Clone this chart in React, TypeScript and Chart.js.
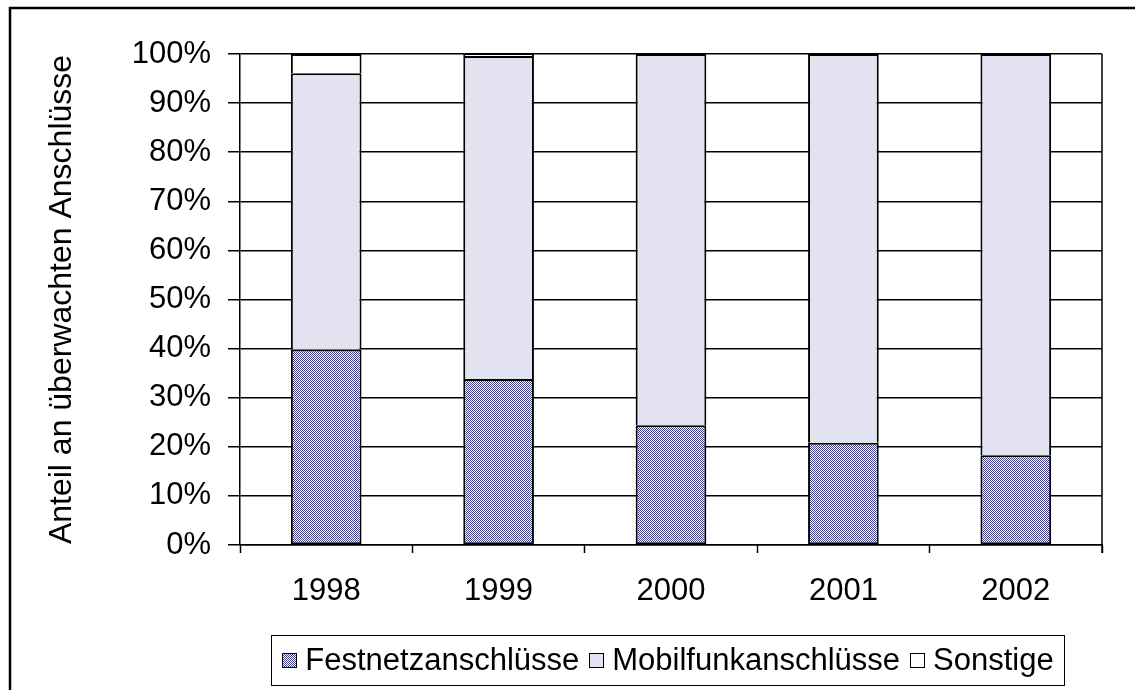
import React, { useEffect, useRef } from "react";
import { Chart, registerables } from "chart.js";

Chart.register(...registerables);

const categories = ["1998", "1999", "2000", "2001", "2002"];
const festnetz = [39.8, 33.8, 24.4, 20.8, 18.3];
const mobilfunk = [56.3, 65.8, 75.6, 79.2, 81.7];
const sonstige = [3.9, 0.4, 0, 0, 0];
const seriesLabels = ["Festnetzanschlüsse", "Mobilfunkanschlüsse", "Sonstige"];
const yTitle = "Anteil an überwachten Anschlüsse";

const FONT = "Arial, 'Liberation Sans', sans-serif";

function makePattern(): CanvasPattern | string {
  const c = document.createElement("canvas");
  c.width = 2;
  c.height = 2;
  const g = c.getContext("2d");
  if (!g) return "#a0a0c4";
  g.fillStyle = "#ffffff";
  g.fillRect(0, 0, 2, 2);
  g.fillStyle = "#42428a";
  g.fillRect(0, 0, 1, 1);
  g.fillRect(1, 1, 1, 1);
  const p = g.createPattern(c, "repeat");
  return p || "#a0a0c4";
}

export default function App() {
  const ref = useRef<HTMLCanvasElement | null>(null);

  useEffect(() => {
    if (!ref.current) return;
    const pattern = makePattern();

    const framePlugin = {
      id: "frame",
      beforeDraw(chart: any) {
        const ctx = chart.ctx;
        ctx.save();
        ctx.fillStyle = "#ffffff";
        ctx.fillRect(0, 0, chart.width, chart.height);
        ctx.strokeStyle = "#000";
        ctx.lineWidth = 2.5;
        ctx.strokeRect(10, 8, chart.width + 20, chart.height + 20);
        ctx.restore();
      },
      afterDatasetsDraw(chart: any) {
        const { ctx, chartArea } = chart;
        ctx.save();
        ctx.strokeStyle = "#000";
        ctx.lineWidth = 1.5;
        ctx.beginPath();
        ctx.moveTo(chartArea.right, chartArea.top);
        ctx.lineTo(chartArea.right, chartArea.bottom + 8);
        ctx.stroke();
        ctx.restore();
      },
      afterDraw(chart: any) {
        const ctx = chart.ctx;
        const ds = chart.data.datasets;
        ctx.save();
        ctx.font = `31px ${FONT}`;
        const marker = 14;
        const gap = 9;
        const itemGap = 10;
        let content = 0;
        ds.forEach((d: any, i: number) => {
          content += marker + gap + ctx.measureText(d.label).width;
          if (i < ds.length - 1) content += itemGap;
        });
        const cx = 668;
        const boxW = content + 22;
        const boxL = cx - boxW / 2;
        const boxT = 635;
        const boxH = 50;
        ctx.fillStyle = "#fff";
        ctx.fillRect(boxL, boxT, boxW, boxH);
        ctx.strokeStyle = "#000";
        ctx.lineWidth = 1;
        ctx.strokeRect(Math.round(boxL) + 0.5, boxT + 0.5, Math.round(boxW), boxH);
        let x = boxL + 11;
        const cy = boxT + boxH / 2;
        ds.forEach((d: any) => {
          ctx.fillStyle = d.backgroundColor;
          ctx.fillRect(x, cy - marker / 2, marker, marker);
          ctx.strokeStyle = "#000";
          ctx.lineWidth = 1;
          ctx.strokeRect(Math.round(x) + 0.5, Math.round(cy - marker / 2) + 0.5, marker, marker);
          x += marker + gap;
          ctx.fillStyle = "#000";
          ctx.textBaseline = "middle";
          ctx.textAlign = "left";
          ctx.fillText(d.label, x, cy + 1);
          x += ctx.measureText(d.label).width + itemGap;
        });
        ctx.restore();
      },
    };

    const chart = new Chart(ref.current, {
      type: "bar",
      data: {
        labels: categories,
        datasets: [
          {
            label: seriesLabels[0],
            data: festnetz,
            backgroundColor: pattern as any,
            borderColor: "#000",
            borderWidth: 2,
            borderSkipped: false,
          },
          {
            label: seriesLabels[1],
            data: mobilfunk,
            backgroundColor: "#e2e2f0",
            borderColor: "#000",
            borderWidth: 2,
            borderSkipped: "start",
          },
          {
            label: seriesLabels[2],
            data: sonstige,
            backgroundColor: "#ffffff",
            borderColor: "#000",
            borderWidth: 2,
            borderSkipped: "start",
          },
        ],
      },
      options: {
        responsive: false,
        animation: false,
        devicePixelRatio: 1,
        barPercentage: 0.41,
        categoryPercentage: 1,
        layout: { padding: { left: 0, top: 54, right: 33, bottom: 0 } },
        plugins: {
          legend: { display: false },
          tooltip: { enabled: false },
        },
        scales: {
          x: {
            stacked: true,
            offset: true,
            grid: {
              offset: true,
              drawOnChartArea: false,
              drawTicks: true,
              tickLength: 8,
              tickColor: "#000",
              tickWidth: 1.5,
            },
            border: { display: true, color: "#000", width: 1.5 },
            ticks: {
              color: "#000",
              font: { family: FONT, size: 31 },
              padding: 20,
              maxRotation: 0,
            },
            afterFit(scale: any) {
              scale.height = 145;
            },
          },
          y: {
            stacked: true,
            min: 0,
            max: 100,
            grid: {
              color: "#000",
              lineWidth: 1.5,
              tickLength: 12,
              tickColor: "#000",
              tickWidth: 1.5,
            },
            border: { display: true, color: "#000", width: 1.5 },
            ticks: {
              stepSize: 10,
              color: "#000",
              font: { family: FONT, size: 31 },
              padding: 17,
              callback: (v: any) => `${v}%`,
            },
            title: {
              display: true,
              text: yTitle,
              color: "#000",
              font: { family: FONT, size: 32, weight: "normal" },
              padding: { top: 43, bottom: 0 },
            },
            afterFit(scale: any) {
              scale.width = 240;
            },
          },
        },
      },
      plugins: [framePlugin],
    });
    return () => chart.destroy();
  }, []);

  return (
    <div style={{ position: "absolute", left: 0, top: 0, width: 1135, height: 690 }}>
      <canvas ref={ref} width={1135} height={690} style={{ display: "block" }} />
    </div>
  );
}
